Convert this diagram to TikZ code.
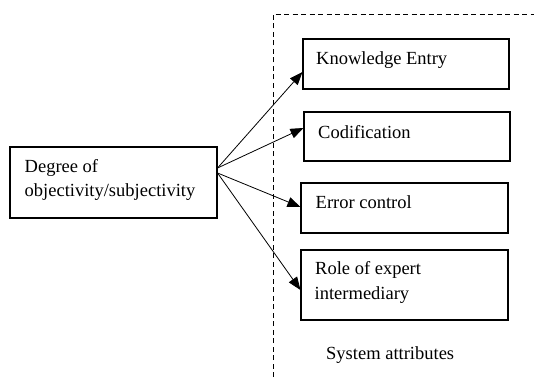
\documentclass[tikz,border=0pt]{standalone}
\usepackage{fontspec}
\setmainfont{Liberation Serif}
\usetikzlibrary{arrows.meta}
\begin{document}
\begin{tikzpicture}[x=1pt,y=-1pt,
  box/.style={draw,line width=1.1pt,minimum width=#1,inner sep=0pt},
  txt/.style={anchor=base west,inner sep=0pt,font=\fontsize{18.5}{22}\selectfont},
  arr/.style={line width=0.8pt,-{Triangle[length=13pt,width=10pt]}},
  bound/.style={line width=0.9pt,dash pattern=on 5pt off 3.5pt}]
\useasboundingbox (0,0) rectangle (534,377);
% boxes
\node[box=207pt,minimum height=71pt] (src) at (113.5,182.5) {};
\node[box=206pt,minimum height=50pt] (k1) at (406,64) {};
\node[box=206pt,minimum height=49pt] (k2) at (407,136.5) {};
\node[box=207pt,minimum height=50pt] (k3) at (404.5,208) {};
\node[box=207pt,minimum height=70pt] (k4) at (404.5,285) {};
% texts
\node[txt] (s1) at (24.5,172) {Degree of};
\node[txt] (s2) at (24.5,196) {objectivity/subjectivity};
\node[txt] (t1) at (316,65) {Knowledge Entry};
\node[txt] (t2) at (318,138) {Codification};
\node[txt] (t3) at (315.5,208) {Error control};
\node[txt] (t4a) at (315,274) {Role of expert};
\node[txt] (t4b) at (314.5,299) {intermediary};
\node[txt] (sys) at (326,359) {System attributes};
% boundary
\coordinate (bb) at (273,377);
\coordinate (bt) at (273,14);
\coordinate (br) at (534,14);
\draw[bound] (bb) -- (bt) -- (br);
% arrows
\draw[arr] ([yshift=14.5pt]src.east) -- ([yshift=-8pt]k1.west);
\draw[arr] ([yshift=14.5pt]src.east) -- ([yshift=8.5pt]k2.west);
\draw[arr] ([yshift=9.5pt]src.east) -- ([yshift=1pt]k3.west);
\draw[arr] ([yshift=9.5pt]src.east) -- ([yshift=-5pt]k4.west);
\end{tikzpicture}
\end{document}
